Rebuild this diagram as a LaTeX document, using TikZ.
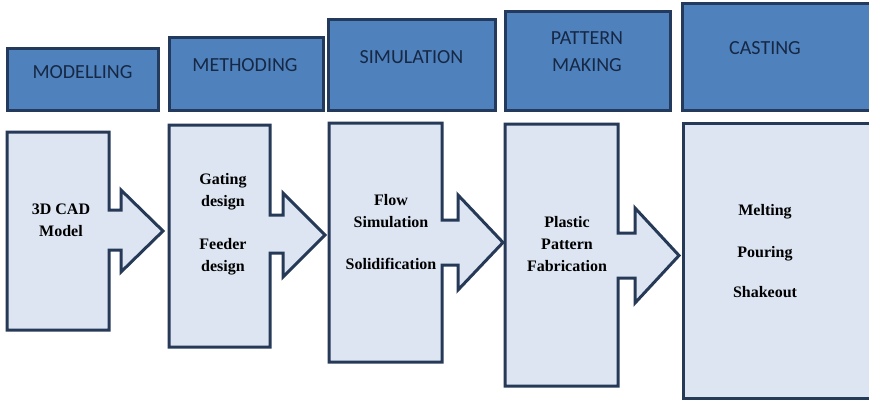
\documentclass[tikz,border=0pt]{standalone}
\usepackage{fontspec}
\setmainfont{Liberation Serif}
\newfontfamily\headfont{Carlito}
\usepackage{xcolor}
\usetikzlibrary{positioning}
\definecolor{headblue}{RGB}{79,129,189}
\definecolor{headline}{RGB}{35,58,92}
\definecolor{headtext}{RGB}{22,40,68}
\definecolor{bodyblue}{RGB}{220,229,241}
\definecolor{bodyline}{RGB}{38,58,88}

\begin{document}
\begin{tikzpicture}[x=1pt, y=-1pt,
  head/.style={draw=headline, fill=headblue, line width=3pt, inner sep=0pt},
  headtxt/.style={font=\headfont\fontsize{20}{27}\selectfont, text=headtext, align=center, inner sep=0pt},
  body/.style={draw=bodyline, fill=bodyblue, line width=3pt, line join=miter},
  bodytxt/.style={font=\bfseries\fontsize{16}{22}\selectfont, align=center, inner sep=0pt}
]
  \useasboundingbox (0,0) rectangle (869,401);
  \clip (0,0) rectangle (869,401);

  % stage headers
  \node[head, minimum width=151pt, minimum height=62pt] (modbox) at (82.5,80) {};
  \node[head, minimum width=154pt, minimum height=73pt] (methbox) at (246,74.5) {};
  \node[head, minimum width=167pt, minimum height=91pt] (simbox) at (411.5,65.5) {};
  \node[head, minimum width=165pt, minimum height=99pt] (patbox) at (587.5,61.5) {};
  \node[head, minimum width=198pt, minimum height=107pt] (castbox) at (781,57.5) {};

  \node[headtxt] (modtxt) at (82.5,72) {MODELLING};
  \node[headtxt] (methtxt) at (245,65) {METHODING};
  \node[headtxt] (simtxt) at (411.5,57) {SIMULATION};
  \node[headtxt] (pattxt) at (587,51.5) {PATTERN\\MAKING};
  \node[headtxt] (casttxt) at (765,48) {CASTING};

  % stage bodies with arrows
  \filldraw[body] (7,132) -- (109,132) -- (109,210) -- (121,210) -- (121,190)
    -- (163,231) -- (121,272) -- (121,250) -- (109,250) -- (109,330) -- (7,330) -- cycle;
  \filldraw[body] (169,125) -- (270,125) -- (270,215) -- (283,215) -- (283,193)
    -- (325,235) -- (283,277) -- (283,253) -- (270,253) -- (270,347) -- (169,347) -- cycle;
  \filldraw[body] (329,123) -- (442,123) -- (442,220) -- (458,220) -- (458,195)
    -- (503,242.5) -- (458,290) -- (458,265) -- (442,265) -- (442,362) -- (329,362) -- cycle;
  \filldraw[body] (505,124) -- (618,124) -- (618,233) -- (635,233) -- (635,208)
    -- (679,255.5) -- (635,303) -- (635,278) -- (618,278) -- (618,386) -- (505,386) -- cycle;
  \filldraw[body] (683,123) rectangle (880,398);

  \node[bodytxt] (cad) at (61,220) {3D CAD\\Model};
  \node[bodytxt] (gating) at (223,224) {Gating\\design\\[21pt]Feeder\\design};
  \node[bodytxt] (flow) at (391,232) {Flow\\Simulation\\[20pt]Solidification};
  \node[bodytxt] (plastic) at (567,244) {Plastic\\Pattern\\Fabrication};
  \node[bodytxt] (melting) at (765,251) {Melting\\[20pt]Pouring\\[18pt]Shakeout};
\end{tikzpicture}
\end{document}
